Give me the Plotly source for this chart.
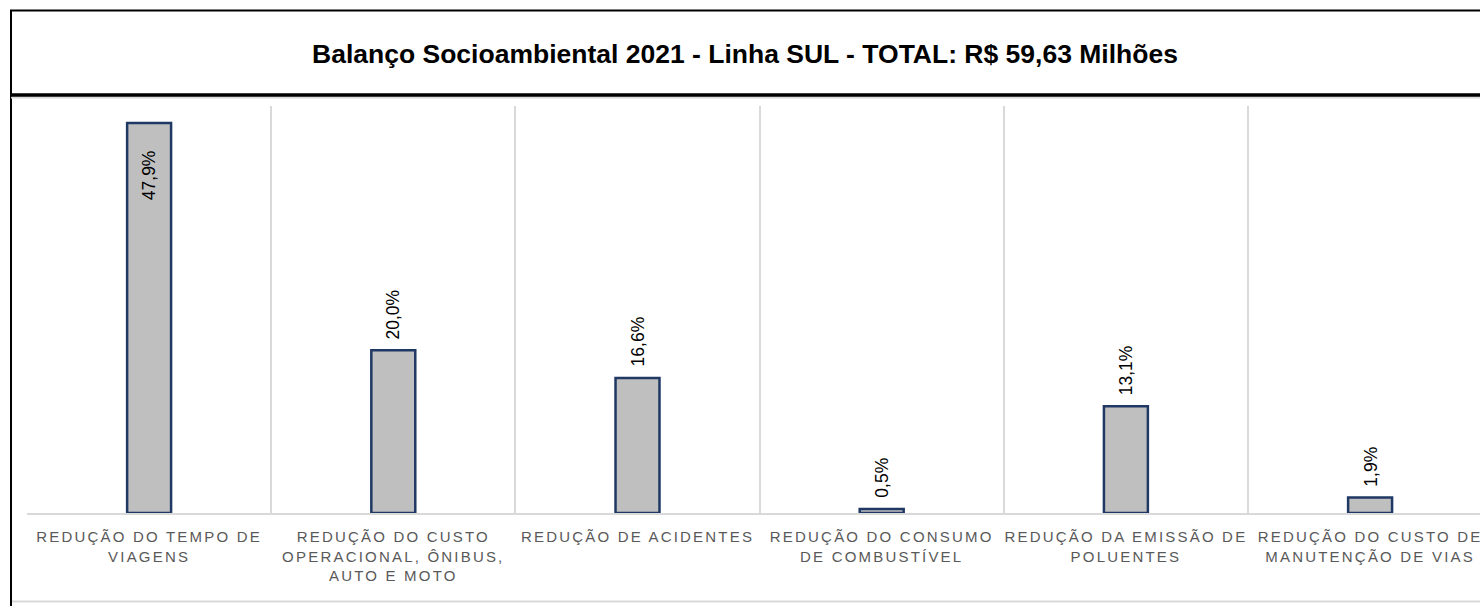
import plotly.graph_objects as go

categories = [
    "REDUÇÃO DO TEMPO DE<br>VIAGENS",
    "REDUÇÃO DO CUSTO<br>OPERACIONAL, ÔNIBUS,<br>AUTO E MOTO",
    "REDUÇÃO DE ACIDENTES",
    "REDUÇÃO DO CONSUMO<br>DE COMBUSTÍVEL",
    "REDUÇÃO DA EMISSÃO DE<br>POLUENTES",
    "REDUÇÃO DO CUSTO DE<br>MANUTENÇÃO DE VIAS",
]
values = [47.9, 20.0, 16.6, 0.5, 13.1, 1.9]
title_text = "Balanço Socioambiental 2021 - Linha SUL - TOTAL: R$ 59,63 Milhões"

OFF = 0  # page body margin removed below
W, H = 1480, 606
L, T, B = 27, 106, 93
plot_w = W - L
plot_h = H - T - B

def px_x(p):  # screen pixel -> paper x
    return (p - OFF - L) / plot_w

def px_y(p):  # screen pixel -> paper y
    return (H - B - (p - OFF)) / plot_h

labels = [f"{v:.1f}%".replace(".", ",") for v in values]

fig = go.Figure()
fig.add_trace(go.Bar(
    x=categories, y=values, width=0.18,
    marker=dict(color="#BFBFBF", line=dict(color="#1F3864", width=2.5)),
    hoverinfo="skip",
))

FONT = "Liberation Sans Narrow, Arial Narrow, Liberation Sans, Arial, sans-serif"
for c, v, lab in zip(categories, values, labels):
    inside = v > 40
    fig.add_annotation(
        x=c, y=v, text=lab, showarrow=False, textangle=-90,
        yanchor="top" if inside else "bottom",
        yshift=-25 if inside else 9,
        font=dict(family=FONT, size=17.5, color="#000000"),
    )

full_w = 244.2
right = -0.5 + plot_w / full_w

fig.update_layout(
    width=W, height=H,
    margin=dict(l=L, r=0, t=T, b=B),
    paper_bgcolor="white", plot_bgcolor="white",
    showlegend=False,
    title=dict(
        text="<b>" + title_text + "</b>",
        x=(745 - OFF) / W, xanchor="center",
        y=1 - (54 - OFF) / H, yanchor="middle", yref="container",
        font=dict(family=FONT, size=26.5, color="#000000"),
    ),
    xaxis=dict(
        type="category", range=[-0.5, right],
        tickson="boundaries", showgrid=True, gridcolor="#D9D9D9", gridwidth=1.5,
        showline=True, linecolor="#D9D9D9", linewidth=2,
        ticks="", tickangle=0, ticklabelstandoff=9,
        tickfont=dict(family=FONT, size=15, color="#595959"),
        fixedrange=True,
    ),
    yaxis=dict(
        range=[0, 50], showgrid=False, showticklabels=False, zeroline=False,
        showline=False, ticks="", fixedrange=True,
    ),
)

# frame lines around the chart area
fig.add_shape(type="line", xref="paper", yref="paper",
              x0=px_x(10), x1=px_x(1500), y0=px_y(10.5), y1=px_y(10.5),
              line=dict(color="#000000", width=2))
fig.add_shape(type="line", xref="paper", yref="paper",
              x0=px_x(11), x1=px_x(11), y0=px_y(10), y1=px_y(620),
              line=dict(color="#000000", width=2))
fig.add_shape(type="line", xref="paper", yref="paper",
              x0=px_x(11), x1=px_x(1500), y0=px_y(97.5), y1=px_y(97.5),
              line=dict(color="#D9D9D9", width=2))
fig.add_shape(type="line", xref="paper", yref="paper",
              x0=px_x(10), x1=px_x(1500), y0=px_y(95), y1=px_y(95),
              line=dict(color="#000000", width=3.5))
fig.add_shape(type="line", xref="paper", yref="paper",
              x0=px_x(12), x1=px_x(1500), y0=px_y(601.5), y1=px_y(601.5),
              line=dict(color="#D9D9D9", width=2))

post = ("document.body.style.margin='0';"
        "document.documentElement.style.overflow='hidden';"
        "document.body.style.overflow='hidden';"
        "document.querySelectorAll('.xtick text').forEach(function(t){"
        "t.style.letterSpacing='2.2px';});")
fig.write_html("out.html", post_script=post, config={"displayModeBar": False})
